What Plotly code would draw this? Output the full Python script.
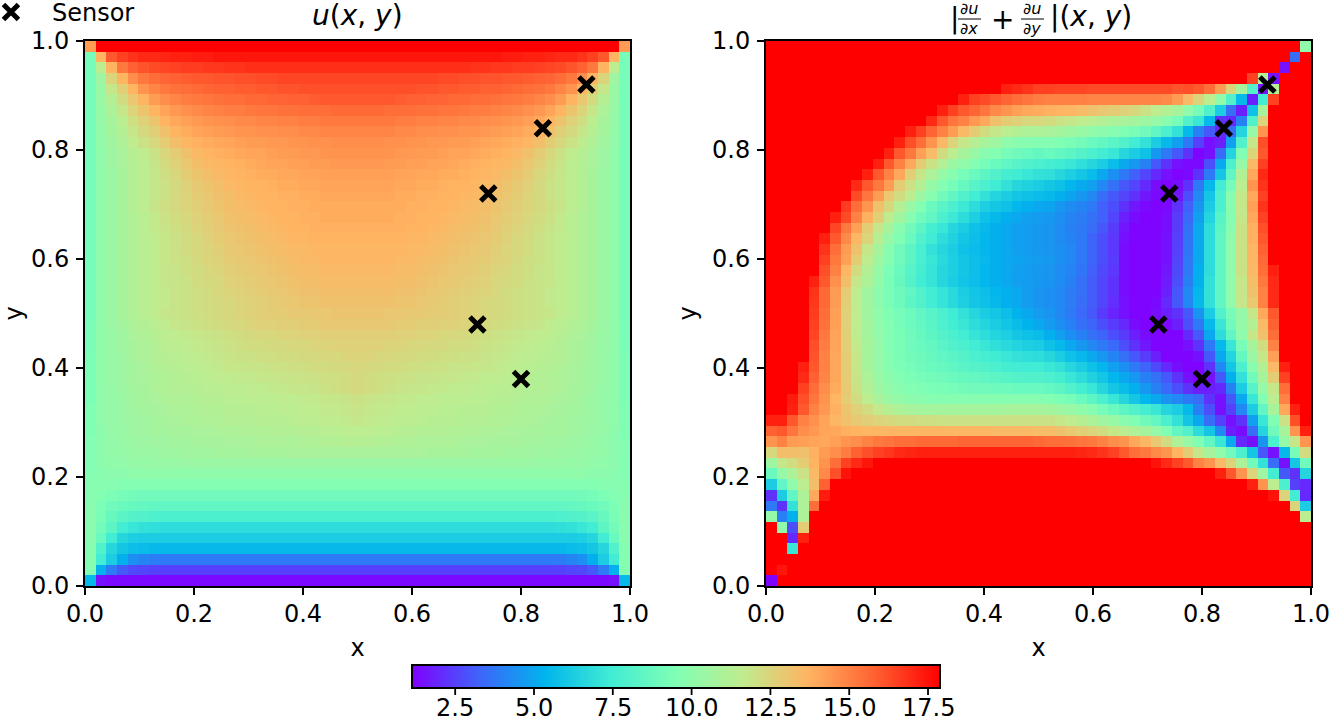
import plotly.graph_objects as go

R = 190  # clipped red, above the colour range

# values in tenths, rows run from y=1 down to y=0
# u(x, y) is mirror symmetric about x=0.5, so rows hold x=0 .. 0.5 only,
# and stop where the value levels off
u_half = [
    [143, 179],
    [92, 137, 160, 165, 168, 170, 170, 171, 172, 172, 173, 173, 174],
    [92, 115, 137, 152, 158, 161, 163, 164, 165, 166, 166, 167, 167, 168, 168, 169],
    [92, 105, 125, 137, 147, 152, 155, 157, 158, 159, 160, 160, 161, 161, 162, 162, 163, 163, 164],
    [92, 103, 118, 127, 137, 145, 149, 152, 154, 155, 156, 157, 158, 158, 159, 159, 160, 160, 161, 161, 162],
    [92, 103, 113, 122, 130, 137, 143, 147, 149, 151, 152, 153, 154, 155, 155, 156, 156, 157, 157, 158, 158, 159, 160],
    [92, 102, 110, 118, 125, 131, 137, 141, 144, 146, 148, 149, 150, 151, 151, 152, 153, 153, 154, 154, 155, 155, 155, 156],
    [92, 102, 108, 115, 121, 126, 131, 137, 140, 142, 144, 145, 146, 147, 148, 148, 149, 149, 150, 150, 151, 151, 152],
    [92, 101, 107, 113, 118, 123, 127, 132, 137, 139, 141, 142, 143, 144, 145, 145, 146, 146, 147, 147, 148, 148, 149],
    [92, 101, 106, 111, 116, 120, 124, 128, 133, 136, 138, 139, 140, 141, 142, 143, 143, 144, 144, 145, 145, 146, 146, 147],
    [92, 100, 105, 109, 113, 116, 120, 124, 128, 132, 135, 137, 138, 139, 140, 141, 141, 142, 143, 143, 144, 144, 145],
    [92, 100, 105, 109, 112, 115, 119, 122, 126, 130, 133, 135, 136, 137, 138, 139, 140, 141, 141, 142, 142, 143, 143, 144],
    [92, 100, 104, 108, 112, 115, 118, 121, 124, 128, 131, 133, 135, 136, 137, 138, 139, 139, 140, 140, 141, 141, 142],
    [92, 100, 104, 108, 112, 115, 118, 120, 123, 126, 129, 131, 133, 135, 136, 137, 137, 138, 139, 139, 140, 140, 141],
    [92, 100, 104, 108, 112, 115, 118, 120, 123, 125, 128, 130, 132, 133, 135, 136, 137, 137, 138, 138, 139, 139, 140],
    [92, 100, 104, 108, 112, 115, 119, 121, 123, 125, 127, 129, 131, 133, 134, 135, 136, 137, 137, 138, 138, 139],
    [92, 100, 104, 108, 111, 114, 117, 120, 122, 124, 126, 128, 130, 132, 133, 134, 135, 136, 137, 137, 138, 138, 139],
    [92, 100, 104, 108, 111, 114, 117, 119, 121, 123, 125, 127, 129, 131, 132, 133, 134, 135, 136, 137, 137, 138],
    [92, 100, 104, 108, 111, 114, 116, 118, 120, 122, 124, 126, 128, 130, 131, 132, 133, 134, 135, 136, 136, 137],
    [92, 100, 104, 108, 111, 114, 116, 118, 120, 122, 124, 125, 127, 129, 130, 131, 132, 133, 134, 135, 135, 136],
    [92, 100, 104, 108, 111, 114, 116, 118, 120, 121, 123, 125, 126, 128, 129, 130, 131, 132, 133, 134, 135, 135, 136],
    [92, 100, 104, 108, 111, 114, 116, 118, 119, 121, 122, 124, 125, 127, 128, 129, 130, 131, 132, 133, 134, 134, 135],
    [92, 100, 104, 108, 111, 114, 116, 118, 119, 120, 122, 123, 124, 126, 127, 128, 129, 130, 131, 132, 133, 133, 134],
    [92, 100, 104, 108, 111, 114, 116, 117, 119, 120, 121, 122, 124, 125, 126, 127, 128, 129, 130, 131, 132, 132, 133],
    [92, 100, 104, 108, 111, 114, 116, 117, 119, 120, 121, 122, 123, 124, 125, 126, 127, 128, 129, 130, 131, 131, 132],
    [92, 100, 104, 108, 111, 114, 116, 118, 119, 120, 121, 122, 123, 124, 125, 126, 127, 128, 128, 129, 129, 130, 130, 131],
    [93, 100, 104, 107, 110, 112, 114, 116, 118, 119, 120, 121, 122, 123, 124, 125, 126, 126, 127, 127, 128, 128, 129],
    [93, 100, 103, 106, 109, 111, 113, 115, 116, 117, 118, 119, 120, 121, 122, 123, 124, 124, 125, 125, 126, 126, 127],
    [93, 100, 103, 106, 108, 110, 112, 114, 115, 116, 117, 118, 119, 120, 121, 122, 122, 123, 123, 124, 124, 125, 125, 126],
    [94, 100, 103, 105, 108, 110, 112, 113, 114, 115, 116, 117, 118, 119, 120, 120, 121, 121, 122, 122, 123, 123, 124, 124, 125],
    [94, 100, 103, 105, 107, 109, 111, 112, 113, 114, 115, 116, 117, 118, 118, 119, 119, 120, 120, 121, 121, 122, 122, 123, 123, 124],
    [94, 100, 103, 105, 107, 109, 110, 111, 112, 113, 114, 115, 116, 116, 117, 117, 118, 118, 119, 119, 120, 120, 121, 121, 122, 123],
    [94, 100, 102, 105, 107, 108, 110, 111, 112, 112, 113, 114, 114, 115, 115, 116, 116, 117, 117, 118, 118, 119, 120, 121, 122, 123],
    [94, 100, 102, 104, 106, 108, 109, 110, 111, 111, 112, 113, 113, 114, 114, 115, 115, 115, 116, 116, 117, 117, 118, 118, 119, 120],
    [95, 100, 102, 104, 106, 107, 108, 109, 110, 110, 111, 112, 112, 113, 113, 113, 114, 114, 115, 115, 116, 116, 117, 117, 118, 119],
    [95, 100, 102, 104, 105, 106, 107, 108, 109, 110, 110, 111, 111, 112, 112, 112, 113, 113, 113, 114, 115, 115, 116, 116, 117, 118],
    [95, 99, 102, 103, 105, 106, 107, 107, 108, 108, 109, 109, 110, 110, 111, 111, 111, 112, 112, 112, 113, 113, 114, 114, 115],
    [96, 99, 101, 103, 104, 105, 106, 106, 107, 107, 108, 108, 108, 109, 109, 109, 110, 110, 110, 110, 111, 111, 112, 112, 113],
    [96, 99, 101, 102, 103, 104, 104, 105, 105, 106, 106, 106, 107, 107, 107, 108, 108, 108, 108, 109],
    [96, 99, 100, 101, 102, 102, 103, 103, 103, 104],
    [96, 98, 99, 99, 100],
    [97, 97, 97, 96],
    [97, 96, 94, 92, 91, 90],
    [98, 94, 90, 88, 87, 86, 85],
    [98, 93, 87, 83, 81, 80, 79, 78],
    [98, 91, 84, 75, 72, 70, 69, 68],
    [98, 88, 75, 66, 63, 62],
    [97, 80, 66, 60, 57, 56, 55],
    [97, 75, 62, 52, 44, 41, 39, 38],
    [96, 52, 38, 30, 27, 26, 25],
    [55, 15, 13],
]

# |du/dx + du/dy|, left part holds x=0 .. 0.5 and right part the other 25 cells
grad_left = [
    [R] * 26, [R] * 26, [R] * 26, [R] * 26,
    [R] * 22 + [172, 170, 168, 165],
    [R] * 18 + [172, 165, 163, 160, 157, 155, 153, 151],
    [R] * 16 + [172, 165, 160, 157, 153, 148, 145, 142, 140, 139],
    [R] * 15 + [170, 160, 153, 150, 144, 140, 132, 128, 126, 124, 124],
    [R] * 13 + [172, 165, 157, 150, 143, 135, 128, 122, 118, 115, 112, 110, 110],
    [R] * 12 + [172, 162, 155, 145, 135, 125, 118, 113, 108, 105, 100, 98, 97, 96],
    [R] * 11 + [172, 160, 152, 142, 134, 122, 115, 108, 103, 98, 96, 92, 90, 88, 86],
    [R] * 10 + [172, 160, 150, 140, 128, 120, 112, 104, 100, 96, 92, 88, 85, 82, 80, 78],
    [R] * 9 + [172, 160, 150, 140, 127, 118, 110, 102, 97, 92, 88, 84, 80, 76, 74, 72, 70],
    [R] * 8 + [170, 160, 152, 143, 128, 120, 112, 102, 96, 92, 87, 82, 78, 74, 70, 66, 64, 62],
    [R] * 8 + [163, 153, 143, 130, 122, 115, 104, 97, 90, 85, 80, 75, 70, 65, 62, 60, 58, 56],
    [R] * 7 + [166, 155, 145, 132, 124, 113, 103, 96, 88, 83, 78, 73, 68, 63, 60, 58, 54, 52, 50],
    [R] * 6 + [172, 163, 150, 138, 127, 116, 106, 97, 90, 85, 78, 73, 68, 63, 58, 55, 52, 50, 48, 47],
    [R] * 6 + [164, 152, 142, 128, 118, 108, 98, 90, 84, 76, 72, 66, 62, 58, 55, 52, 50, 48, 47, 46],
    [R] * 5 + [172, 160, 148, 136, 125, 113, 103, 95, 88, 80, 74, 68, 64, 60, 57, 54, 52, 50, 48, 47, 46],
    [R] * 5 + [168, 155, 143, 132, 118, 108, 98, 90, 84, 77, 70, 66, 62, 58, 56, 54, 52, 50, 48, 47, 46],
    [R] * 5 + [165, 152, 142, 128, 116, 105, 97, 90, 84, 77, 72, 67, 63, 60, 57, 55, 52, 50, 49, 48, 47],
    [R] * 5 + [162, 150, 136, 122, 112, 102, 94, 88, 82, 76, 71, 66, 63, 60, 57, 54, 52, 50, 48, 47, 46],
    [R] * 4 + [172, 160, 146, 133, 118, 110, 101, 93, 87, 81, 75, 71, 66, 62, 59, 57, 54, 52, 50, 48, 47, 46],
    [R] * 4 + [168, 156, 143, 128, 116, 106, 99, 93, 89, 85, 80, 75, 71, 67, 62, 59, 57, 54, 52, 50, 47, 45],
    [R] * 4 + [167, 156, 143, 127, 116, 106, 99, 93, 89, 84, 80, 75, 71, 67, 63, 60, 58, 55, 52, 50, 47, 45],
    [R] * 4 + [166, 155, 142, 126, 116, 106, 100, 95, 92, 89, 85, 82, 78, 74, 70, 66, 62, 60, 57, 53, 50, 47],
    [R] * 4 + [165, 154, 142, 126, 116, 107, 100, 96, 92, 89, 86, 83, 79, 75, 72, 68, 65, 62, 59, 56, 53, 50],
    [R] * 4 + [164, 152, 141, 127, 116, 107, 101, 96, 93, 90, 87, 84, 81, 78, 75, 71, 68, 65, 63, 60, 58, 56],
    [R] * 4 + [162, 151, 141, 127, 117, 108, 102, 96, 93, 90, 88, 86, 83, 80, 78, 75, 72, 69, 67, 65, 63, 62],
    [R] * 4 + [161, 150, 140, 128, 118, 108, 102, 97, 93, 91, 89, 87, 85, 83, 81, 78, 76, 74, 72, 70, 69, 68],
    [R] * 3 + [172, 160, 150, 140, 128, 118, 108, 102, 97, 94, 92, 90, 88, 87, 85, 83, 81, 80, 78, 76, 75, 74, 74],
    [R] * 3 + [170, 158, 149, 140, 128, 119, 110, 103, 99, 96, 94, 92, 91, 90, 88, 87, 86, 85, 84, 82, 81, 80, 80],
    [R] * 3 + [165, 155, 147, 139, 129, 120, 112, 105, 101, 98, 96, 95, 94, 93, 92, 91, 90, 90, 89, 89, 88, 88, 88],
    [R] * 2 + [173, 162, 153, 145, 136, 128, 122, 115, 109, 104, 101, 99, 98, 97, 97, 97, 97, 97, 97, 97, 97, 97, 97, 97],
    [R] * 2 + [172, 160, 150, 144, 138, 131, 126, 122, 117, 113, 110, 108, 107, 107, 107, 107, 107, 107, 107, 107, 108, 108, 108, 108],
    [172, 172, 160, 150, 146, 141, 136, 132, 129, 127, 125, 124, 122, 122, 121, 121, 120, 120, 120, 120, 120, 120, 120, 120, 120, 120],
    [158, 160, 153, 147, 144, 141, 140, 138, 137, 136, 136, 136, 136, 136, 136, 136, 136, 136, 136, 136, 136, 135, 135, 135, 135, 134],
    [145, 150, 143, 142, 141, 140, 142, 145, 147, 150, 152, 153, 155, 155, 156, 156, 156, 156, 157, 157, 157, 157, 157, 157, 157, 156],
    [124, 133, 133, 132, 138, 143, 147, 151, 158, 162, 165, 167, 170, 171, 172, 172, 172, 172, 172, 172, 172, 172, 172, 172, 172, 172],
    [105, 118, 122, 128, 137, 145, 155, 165, 170, 174] + [R] * 16,
    [88, 102, 110, 120, 135, 148, 162, 175] + [R] * 18,
    [62, 85, 100, 115, 133, 158] + [R] * 20,
    [22, 62, 85, 110, 140, 173] + [R] * 20,
    [38, 22, 70, 110, 155] + [R] * 21,
    [102, 40, 52, 110] + [R] * 22,
    [R, 100, 28, 128] + [R] * 22,
    [R, R, 20, 172] + [R] * 22,
    [R, R, 72] + [R] * 23,
    [R] * 26,
    [R, 174] + [R] * 24,
    [12] + [R] * 25,
]

grad_right = [
    [R] * 24 + [100],
    [R] * 23 + [35, R],
    [R] * 22 + [15, R, R],
    [R] * 19 + [165, 112, 15, R, R, R],
    [165, 164, 164, 164, 163, 163, 163, 163, 163, 163, 163, 163, 161, 162, 160, 155, 143, 125, 108, 80, 15, 112, R, R, R],
    [150, 150, 150, 150, 149, 149, 149, 149, 149, 149, 149, 148, 143, 135, 125, 115, 100, 80, 55, 18, 75, 165, R, R, R],
    [138, 137, 136, 134, 132, 130, 128, 126, 124, 120, 116, 112, 108, 100, 92, 80, 62, 35, 18, 58, 108, R, R, R, R],
    [122, 120, 118, 116, 114, 112, 110, 109, 107, 105, 102, 98, 92, 80, 72, 55, 22, 20, 40, 80, 125, R, R, R, R],
    [109, 107, 105, 103, 100, 99, 97, 95, 93, 90, 85, 78, 70, 55, 40, 30, 20, 35, 65, 102, 145, R, R, R, R],
    [96, 95, 93, 91, 88, 86, 83, 80, 75, 70, 62, 55, 48, 38, 25, 15, 18, 48, 80, 118, 162, R, R, R, R],
    [88, 86, 84, 81, 78, 75, 72, 66, 62, 58, 46, 38, 30, 22, 12, 15, 35, 65, 95, 125, 160, R, R, R, R],
    [76, 74, 72, 69, 66, 62, 56, 50, 46, 40, 30, 22, 15, 13, 13, 28, 50, 78, 102, 135, 165, R, R, R, R],
    [69, 66, 63, 60, 56, 50, 44, 38, 32, 26, 20, 15, 12, 13, 22, 38, 60, 85, 112, 140, 170, R, R, R, R],
    [60, 58, 54, 51, 48, 42, 36, 30, 26, 20, 14, 12, 14, 22, 38, 55, 75, 92, 115, 145, 168, R, R, R, R],
    [55, 52, 49, 46, 42, 35, 30, 26, 22, 16, 13, 12, 16, 28, 42, 60, 78, 98, 118, 140, 165, R, R, R, R],
    [49, 46, 43, 41, 38, 32, 28, 22, 16, 13, 12, 13, 22, 32, 45, 62, 78, 98, 118, 142, 168, R, R, R, R],
    [46, 44, 41, 39, 36, 32, 26, 18, 14, 12, 12, 14, 24, 34, 48, 65, 82, 97, 118, 140, 165, R, R, R, R],
    [45, 43, 40, 38, 35, 30, 24, 16, 12, 12, 12, 14, 24, 36, 50, 68, 84, 98, 120, 138, 162, R, R, R, R],
    [45, 43, 41, 38, 33, 28, 23, 15, 12, 12, 12, 15, 25, 37, 50, 68, 85, 100, 120, 138, 160, R, R, R, R],
    [45, 44, 42, 38, 33, 28, 23, 14, 12, 12, 12, 15, 25, 37, 50, 68, 85, 100, 120, 136, 158, R, R, R, R],
    [46, 44, 42, 38, 33, 28, 24, 14, 12, 12, 12, 15, 26, 38, 50, 68, 85, 100, 120, 136, 156, R, R, R, R],
    [45, 43, 41, 37, 32, 27, 23, 14, 12, 12, 12, 16, 27, 38, 52, 68, 85, 100, 120, 135, 155, 172, R, R, R],
    [45, 43, 40, 36, 31, 26, 22, 14, 12, 12, 12, 17, 28, 40, 52, 70, 85, 100, 118, 133, 152, 170, R, R, R],
    [44, 42, 39, 36, 31, 26, 22, 14, 12, 12, 12, 18, 30, 42, 54, 70, 85, 100, 118, 132, 150, 170, R, R, R],
    [44, 42, 39, 35, 31, 26, 21, 15, 12, 12, 13, 20, 30, 42, 55, 70, 85, 100, 118, 130, 150, 170, R, R, R],
    [45, 42, 38, 34, 30, 24, 19, 15, 12, 12, 14, 18, 22, 30, 45, 62, 80, 92, 102, 118, 140, 160, R, R, R],
    [47, 44, 40, 36, 33, 28, 24, 20, 14, 12, 12, 13, 18, 28, 38, 55, 72, 90, 102, 112, 135, 158, R, R, R],
    [52, 48, 44, 40, 36, 33, 28, 24, 18, 14, 12, 12, 12, 20, 30, 50, 68, 85, 100, 118, 132, 155, R, R, R],
    [58, 55, 50, 46, 42, 38, 34, 28, 22, 16, 12, 12, 12, 15, 22, 38, 55, 72, 92, 108, 122, 150, R, R, R],
    [66, 62, 58, 55, 50, 46, 41, 36, 30, 24, 18, 12, 12, 12, 15, 30, 50, 65, 86, 104, 118, 142, R, R, R],
    [72, 70, 66, 62, 58, 54, 48, 44, 38, 33, 27, 20, 14, 12, 12, 22, 42, 60, 78, 98, 112, 135, 172, R, R],
    [78, 76, 72, 68, 64, 60, 54, 50, 46, 40, 36, 30, 22, 15, 12, 15, 30, 52, 70, 90, 108, 128, 165, R, R],
    [86, 84, 80, 76, 72, 66, 60, 56, 52, 46, 40, 34, 28, 22, 18, 18, 20, 40, 62, 82, 102, 118, 155, R, R],
    [96, 94, 92, 88, 84, 78, 72, 66, 60, 54, 50, 45, 42, 38, 35, 22, 15, 30, 50, 72, 95, 115, 150, R, R],
    [107, 105, 103, 100, 97, 92, 88, 84, 80, 76, 72, 66, 62, 55, 40, 28, 15, 25, 42, 62, 85, 108, 140, 172, R],
    [120, 118, 116, 113, 110, 106, 103, 98, 95, 90, 86, 78, 70, 60, 50, 35, 25, 15, 22, 48, 72, 95, 120, 162, R],
    [134, 132, 130, 127, 125, 122, 118, 115, 111, 107, 102, 95, 85, 80, 68, 60, 42, 18, 14, 35, 65, 90, 108, 145, 172],
    [155, 155, 154, 153, 152, 150, 147, 145, 140, 136, 130, 122, 110, 103, 95, 85, 72, 50, 20, 15, 45, 78, 102, 118, 145],
    [172, 172, 172, 171, 170, 168, 165, 160, 155, 152, 148, 145, 137, 128, 118, 108, 100, 90, 78, 60, 30, 15, 55, 92, 122],
    [R] * 10 + [175, 170, 165, 160, 150, 145, 135, 125, 110, 90, 70, 35, 15, 60, 90],
    [R] * 16 + [172, 160, 145, 125, 105, 75, 30, 22, 65],
    [R] * 19 + [172, 145, 115, 78, 25, 20],
    [R] * 21 + [175, 125, 75, 20],
    [R] * 23 + [125, 62],
    [R] * 24 + [115],
    [R] * 25, [R] * 25, [R] * 25, [R] * 25, [R] * 25, [R] * 25,
]

sensor_x = [0.92, 0.84, 0.74, 0.72, 0.80]
sensor_y = [0.92, 0.84, 0.72, 0.48, 0.38]

axis_ticks = [0.0, 0.2, 0.4, 0.6, 0.8, 1.0]
cbar_ticks = [2.5, 5.0, 7.5, 10.0, 12.5, 15.0, 17.5]

# matplotlib "rainbow"
rainbow = [
    [0.0, "rgb(128,0,255)"],
    [0.125, "rgb(64,98,250)"],
    [0.25, "rgb(0,180,236)"],
    [0.375, "rgb(64,236,212)"],
    [0.5, "rgb(128,255,180)"],
    [0.625, "rgb(191,236,142)"],
    [0.75, "rgb(255,180,98)"],
    [0.875, "rgb(255,98,50)"],
    [1.0, "rgb(255,0,0)"],
]

W, H = 1329, 723
FONT = "DejaVu Sans"
SIZE = 24
N = 51
CMIN, CMAX = 1.13, 17.88
BAR_LEFT, BAR_LEN = 412, 528


def u_row(half):
    full = half + [half[-1]] * (26 - len(half))
    return [v / 10 for v in full + full[-2::-1]]


def grad_row(left, right):
    left = (left + [left[-1]] * 26)[:26]
    right = ([right[0]] * 25 + right)[-25:]
    return [v / 10 for v in left + right]


u_z = [u_row(r) for r in u_half][::-1]
grad_z = [grad_row(a, b) for a, b in zip(grad_left, grad_right)][::-1]

fig = go.Figure()

for z, xa, ya in [(u_z, "x", "y"), (grad_z, "x2", "y2")]:
    fig.add_trace(go.Heatmap(z=z, x0=0.5 / N, dx=1 / N, y0=0.5 / N, dy=1 / N,
                             xaxis=xa, yaxis=ya, coloraxis="coloraxis", hoverinfo="skip"))

marker = dict(symbol="x-thin", size=15, color="black", line=dict(width=5, color="black"))
fig.add_trace(go.Scatter(x=sensor_x, y=sensor_y, mode="markers", name="Sensor", marker=marker))
fig.add_trace(go.Scatter(x=sensor_x, y=sensor_y, mode="markers", xaxis="x2", yaxis="y2",
                         marker=marker, showlegend=False))


def axis(domain, title, anchor, standoff, label_shift):
    return dict(domain=domain, range=[0, 1], anchor=anchor, tickmode="array", tickvals=axis_ticks,
                ticktext=["%.1f" % t for t in axis_ticks], ticks="outside", ticklen=7, tickwidth=1.8,
                tickcolor="black", showline=True, linecolor="black", linewidth=2, mirror=True,
                showgrid=False, zeroline=False, tickfont=dict(size=SIZE, color="black"),
                ticklabeloverflow="allow", ticklabelstandoff=label_shift,
                title=dict(text=title, font=dict(size=SIZE, color="black"), standoff=standoff))


ydom = [1 - 586 / H, 1 - 41 / H]
fig.update_layout(
    width=W,
    height=H,
    margin=dict(l=0, r=0, t=0, b=0, autoexpand=False),
    paper_bgcolor="white",
    plot_bgcolor="white",
    font=dict(family=FONT, color="black"),
    xaxis=axis([85 / W, 630 / W], "x", "y", 12, -2),
    yaxis=axis(ydom, "y", "x", 9, 2),
    xaxis2=axis([766 / W, 1311 / W], "x", "y2", 12, -2),
    yaxis2=axis(ydom, "y", "x2", 9, 2),
    coloraxis=dict(
        cmin=CMIN,
        cmax=CMAX,
        colorscale=rainbow,
        colorbar=dict(
            orientation="h", x=BAR_LEFT / W, xanchor="left", y=1 - 665 / H, yanchor="top",
            len=BAR_LEN, lenmode="pixels", thickness=23, thicknessmode="pixels", xpad=0, ypad=0,
            outlinewidth=2, outlinecolor="black", ticks="", showticklabels=False,
        ),
    ),
    legend=dict(x=-0.0226, y=1.014, xanchor="left", yanchor="top", bgcolor="rgba(0,0,0,0)",
                font=dict(size=SIZE, color="black"), itemwidth=72),
)


def label(text, px, py, size):
    fig.add_annotation(text=text, x=px / W, y=1 - py / H, xref="paper", yref="paper",
                       showarrow=False, font=dict(size=size, color="black"),
                       xanchor="center", yanchor="middle")


label("<i>u</i>(<i>x</i>, <i>y</i>)", 357, 15, 28)
label("|", 954, 18, 28)
label("<i>∂u</i>", 969, 9, 16)
label("<i>∂x</i>", 969, 29, 16)
label("+", 1002, 19, 28)
label("<i>∂u</i>", 1032, 9, 16)
label("<i>∂y</i>", 1032, 29, 16)
label("|(<i>x</i>, <i>y</i>)", 1091, 16, 28)
for x0, x1 in [(958, 981), (1021, 1044)]:
    fig.add_shape(type="line", xref="paper", yref="paper", x0=x0 / W, x1=x1 / W,
                  y0=1 - 19 / H, y1=1 - 19 / H, line=dict(color="black", width=1))

# colour bar ticks and labels sit closer to the bar than plotly allows
for t in cbar_ticks:
    px = BAR_LEFT + (t - CMIN) / (CMAX - CMIN) * BAR_LEN
    label("%.1f" % t, px, 708, SIZE)
    fig.add_shape(type="line", xref="paper", yref="paper", x0=px / W, x1=px / W,
                  y0=1 - 688 / H, y1=1 - 695 / H, line=dict(color="black", width=1.8))

fig.write_html("out.html", post_script="document.body.style.margin='0';",
               config=dict(displayModeBar=False))
